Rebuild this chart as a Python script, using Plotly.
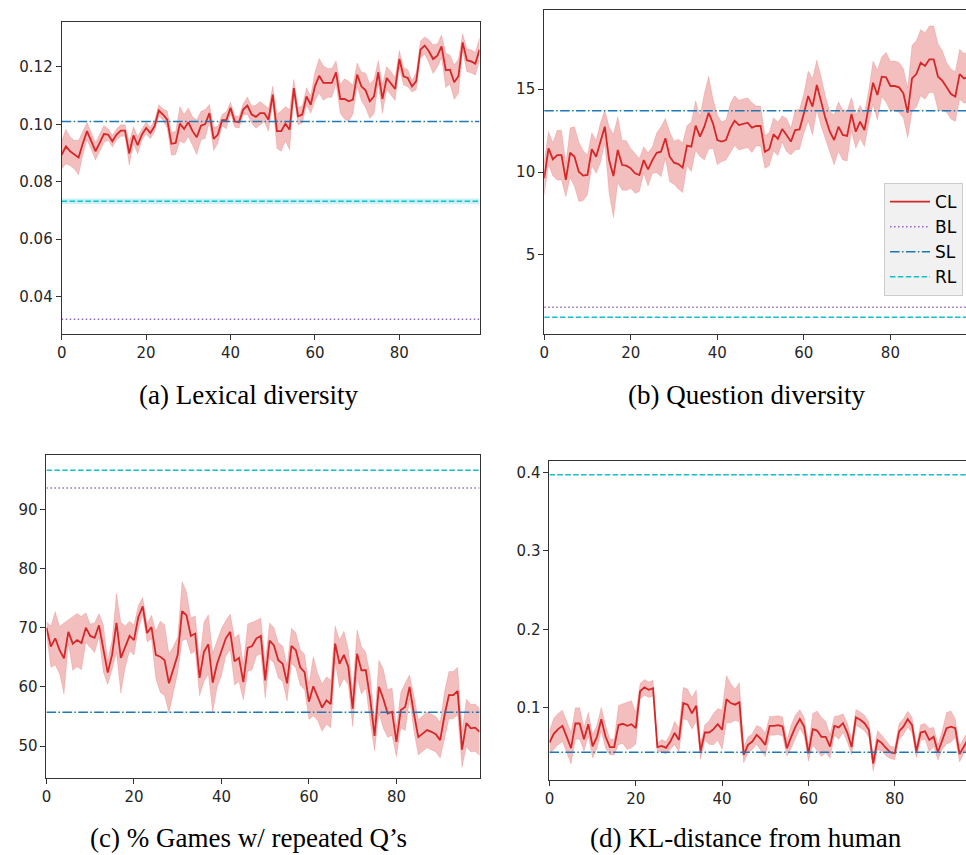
import plotly.graph_objects as go

# ---------------- data ----------------
steps = list(range(100))

# (a) Lexical diversity
lex_cl = [0.0894, 0.0923, 0.0906, 0.0894, 0.0884, 0.0933, 0.0976, 0.0941, 0.0906, 0.0935,
          0.0966, 0.0964, 0.0941, 0.0964, 0.0978, 0.0978, 0.0898, 0.0961, 0.0927, 0.0964,
          0.0987, 0.0970, 0.0993, 0.1048, 0.1034, 0.1016, 0.0932, 0.0935, 0.1002, 0.0984,
          0.1007, 0.0976, 0.0955, 0.0995, 0.1001, 0.1039, 0.0949, 0.0964, 0.1014, 0.1014,
          0.1057, 0.1010, 0.1007, 0.1051, 0.1065, 0.1034, 0.1026, 0.1039, 0.1039, 0.1016,
          0.1103, 0.0976, 0.0976, 0.1002, 0.0981, 0.1126, 0.1028, 0.1034, 0.1097, 0.1068,
          0.1132, 0.1169, 0.1144, 0.1144, 0.1144, 0.1181, 0.1088, 0.1088, 0.1080, 0.1086,
          0.1173, 0.1132, 0.1118, 0.1080, 0.1097, 0.1181, 0.1088, 0.1161, 0.1144, 0.1123,
          0.1227, 0.1167, 0.1161, 0.1132, 0.1150, 0.1260, 0.1274, 0.1254, 0.1227, 0.1239,
          0.1271, 0.1188, 0.1190, 0.1146, 0.1167, 0.1285, 0.1223, 0.1219, 0.1211, 0.1260]
lex_err = [0.005, 0.006, 0.005, 0.005, 0.006, 0.004, 0.003, 0.003, 0.003, 0.003,
           0.003, 0.002, 0.002, 0.002, 0.002, 0.002, 0.004, 0.003, 0.003, 0.002,
           0.002, 0.002, 0.002, 0.002, 0.002, 0.003, 0.004, 0.004, 0.006, 0.005,
           0.005, 0.005, 0.006, 0.005, 0.005, 0.003, 0.004, 0.003, 0.002, 0.003,
           0.002, 0.002, 0.002, 0.002, 0.003, 0.003, 0.004, 0.004, 0.003, 0.004,
           0.003, 0.006, 0.007, 0.006, 0.007, 0.003, 0.003, 0.003, 0.003, 0.003,
           0.005, 0.006, 0.006, 0.005, 0.005, 0.004, 0.005, 0.007, 0.007, 0.005,
           0.004, 0.005, 0.006, 0.006, 0.006, 0.004, 0.005, 0.004, 0.004, 0.004,
           0.003, 0.003, 0.003, 0.002, 0.003, 0.003, 0.003, 0.004, 0.005, 0.004,
           0.004, 0.006, 0.005, 0.006, 0.006, 0.003, 0.004, 0.004, 0.004, 0.004]
lex_bl, lex_sl, lex_rl, lex_rl_err = 0.0321, 0.1010, 0.0732, 0.0010

# (b) Question diversity
qd_cl = [9.62, 11.43, 10.76, 11.02, 11.02, 9.52, 11.16, 10.92, 10.02, 9.78,
         9.82, 11.37, 10.92, 11.77, 12.73, 10.72, 9.76, 11.33, 10.42, 10.38,
         10.22, 9.92, 9.82, 10.72, 10.16, 10.72, 11.16, 11.22, 12.03, 10.92,
         10.56, 10.48, 10.26, 11.59, 11.53, 12.79, 12.13, 12.73, 13.57, 12.93,
         11.93, 11.83, 11.93, 12.63, 13.09, 12.83, 12.89, 12.97, 12.67, 12.77,
         12.77, 11.22, 11.37, 12.27, 11.99, 12.59, 12.23, 11.83, 12.53, 12.57,
         13.53, 14.58, 13.94, 15.24, 14.24, 13.23, 12.43, 11.93, 12.73, 12.23,
         12.17, 13.49, 12.43, 13.03, 12.53, 13.94, 15.38, 14.64, 15.74, 15.70,
         15.18, 15.18, 15.10, 14.74, 13.57, 15.64, 15.90, 16.59, 16.39, 16.79,
         16.79, 15.74, 15.50, 15.10, 14.70, 14.54, 15.90, 15.64, 15.70, 15.50]
qd_err = [1.0, 1.0, 1.0, 1.5, 1.5, 1.0, 1.5, 1.8, 1.8, 1.5,
          1.2, 1.0, 1.0, 1.2, 1.0, 2.0, 2.5, 2.0, 1.5, 1.5,
          1.2, 1.2, 1.0, 0.8, 1.0, 0.8, 1.2, 1.5, 1.2, 1.5,
          1.3, 1.5, 1.5, 1.2, 1.5, 1.5, 1.2, 2.0, 2.2, 1.5,
          1.5, 1.2, 1.2, 1.5, 1.5, 1.5, 1.5, 1.5, 1.5, 1.2,
          1.2, 1.0, 1.0, 1.0, 1.0, 0.8, 1.0, 0.8, 1.2, 1.2,
          1.2, 1.5, 1.7, 1.5, 1.5, 1.3, 1.2, 1.5, 1.5, 1.5,
          1.5, 1.0, 1.0, 1.0, 1.0, 1.0, 1.3, 1.5, 1.2, 1.5,
          1.5, 1.5, 1.5, 1.5, 1.5, 2.0, 2.0, 2.0, 2.0, 2.0,
          2.0, 2.0, 1.8, 1.5, 1.5, 1.5, 1.5, 1.5, 1.5, 1.5]
qd_bl, qd_sl, qd_rl = 1.85, 13.69, 1.25

# (c) % Games w/ repeated Q's
rep_cl = [70.0, 66.8, 68.2, 66.2, 64.8, 69.3, 67.3, 67.9, 67.4, 70.0,
          68.6, 68.3, 70.4, 66.5, 62.4, 65.4, 70.8, 64.9, 66.8, 68.6,
          67.9, 71.8, 73.6, 69.1, 70.1, 65.4, 65.1, 64.5, 60.6, 62.8,
          65.4, 72.8, 72.1, 68.6, 69.0, 61.5, 65.9, 67.2, 60.7, 63.9,
          65.9, 68.2, 69.3, 64.3, 64.9, 60.8, 66.6, 66.9, 68.2, 68.6,
          61.1, 67.8, 67.0, 64.5, 63.9, 60.6, 66.9, 66.2, 63.3, 62.5,
          57.5, 60.1, 58.3, 56.5, 57.7, 57.1, 67.3, 63.9, 65.4, 63.4,
          56.3, 65.6, 62.8, 62.8, 58.0, 51.7, 60.0, 58.0, 55.5, 55.8,
          50.7, 56.1, 56.6, 60.0, 55.5, 51.5, 52.1, 52.7, 52.4, 52.0,
          51.0, 55.2, 58.6, 58.6, 59.3, 49.4, 53.9, 53.0, 53.1, 52.4]
rep_err = [1.0, 3.5, 4.5, 4.0, 6.0, 2.0, 4.5, 4.5, 4.5, 2.5,
           2.0, 2.5, 2.0, 4.0, 2.0, 2.5, 5.0, 6.0, 3.5, 2.5,
           2.5, 2.0, 1.5, 1.5, 2.0, 4.0, 6.0, 6.0, 5.0, 4.0,
           3.0, 5.0, 4.0, 3.0, 3.0, 3.0, 5.0, 5.0, 5.0, 4.0,
           4.0, 3.0, 3.0, 4.0, 4.0, 3.0, 4.0, 4.0, 3.0, 3.0,
           3.0, 3.0, 3.0, 3.0, 3.0, 3.0, 3.0, 3.0, 3.0, 3.0,
           3.0, 5.0, 4.0, 4.0, 4.0, 4.0, 3.0, 4.0, 4.0, 3.0,
           3.0, 4.0, 4.0, 3.0, 4.0, 2.5, 4.5, 5.0, 4.0, 4.0,
           2.5, 3.0, 4.0, 2.0, 3.0, 3.0, 3.0, 3.0, 3.0, 3.0,
           3.0, 4.0, 4.0, 4.0, 4.0, 3.0, 4.0, 4.0, 4.0, 4.0]
rep_bl, rep_sl, rep_rl = 93.6, 55.7, 96.6

# (d) KL-distance from human
kl_cl = [0.0557, 0.0668, 0.0728, 0.0770, 0.0630, 0.0485, 0.0800, 0.0800, 0.0600, 0.0790,
         0.0510, 0.0630, 0.0855, 0.0630, 0.0500, 0.0500, 0.0780, 0.0796, 0.0770, 0.0790,
         0.0740, 0.1210, 0.1260, 0.1230, 0.1250, 0.0500, 0.0515, 0.0490, 0.0570, 0.0680,
         0.0590, 0.1060, 0.1040, 0.0930, 0.1026, 0.0443, 0.0685, 0.0685, 0.0728, 0.0790,
         0.0720, 0.1110, 0.1060, 0.1040, 0.1070, 0.0400, 0.0528, 0.0570, 0.0655, 0.0600,
         0.0528, 0.0770, 0.0770, 0.0780, 0.0762, 0.0485, 0.0630, 0.0760, 0.0855, 0.0760,
         0.0420, 0.0728, 0.0710, 0.0630, 0.0630, 0.0506, 0.0770, 0.0750, 0.0804, 0.0685,
         0.0500, 0.0877, 0.0847, 0.0804, 0.0720, 0.0290, 0.0590, 0.0550, 0.0485, 0.0430,
         0.0420, 0.0700, 0.0760, 0.0855, 0.0780, 0.0443, 0.0685, 0.0700, 0.0590, 0.0630,
         0.0434, 0.0590, 0.0740, 0.0760, 0.0740, 0.0410, 0.0515, 0.0600, 0.0500, 0.0500]
kl_err = [0.015, 0.020, 0.020, 0.020, 0.020, 0.020, 0.020, 0.020, 0.015, 0.015,
          0.015, 0.015, 0.015, 0.015, 0.010, 0.010, 0.025, 0.025, 0.030, 0.030,
          0.020, 0.010, 0.010, 0.010, 0.010, 0.005, 0.008, 0.008, 0.010, 0.015,
          0.015, 0.020, 0.020, 0.020, 0.020, 0.010, 0.010, 0.015, 0.020, 0.020,
          0.025, 0.030, 0.025, 0.020, 0.025, 0.010, 0.010, 0.010, 0.012, 0.015,
          0.015, 0.012, 0.012, 0.012, 0.012, 0.010, 0.015, 0.015, 0.012, 0.012,
          0.010, 0.020, 0.025, 0.025, 0.020, 0.015, 0.012, 0.015, 0.012, 0.012,
          0.010, 0.010, 0.010, 0.010, 0.010, 0.010, 0.012, 0.010, 0.010, 0.008,
          0.008, 0.010, 0.010, 0.010, 0.010, 0.008, 0.010, 0.010, 0.015, 0.012,
          0.010, 0.012, 0.020, 0.020, 0.012, 0.010, 0.010, 0.010, 0.010, 0.010]
kl_bl, kl_sl, kl_rl = 0.5, 0.0434, 0.397

captions = ["(a) Lexical diversity", "(b) Question diversity",
            "(c) % Games w/ repeated Q\u2019s", "(d) KL-distance from human"]
series_names = ["CL", "BL", "SL", "RL"]

# ---------------- styling ----------------
RED = "#d62728"
RED_FILL = "rgba(214,39,40,0.30)"
PURPLE = "#9467bd"
BLUE = "#1f77b4"
CYAN = "#17becf"
DASH_BL = "1.5px,2.5px"
DASH_SL = "9.6px,2.4px,1.5px,2.4px"
DASH_RL = "5.5px,2.4px"

W, H = 966, 855


def fx(px):
    return px / W


def fy(py):
    return 1 - py / H


panels = [
    dict(cl=lex_cl, err=lex_err, bl=lex_bl, sl=lex_sl, rl=lex_rl,
         xdom=[fx(57), fx(477)], ydom=[fy(334), fy(21.7)],
         xrange=[0, 99], yrange=[0.027, 0.1357],
         ytick=[0.04, 0.06, 0.08, 0.10, 0.12], ytext=["0.04", "0.06", "0.08", "0.10", "0.12"],
         box=True),
    dict(cl=qd_cl, err=qd_err, bl=qd_bl, sl=qd_sl, rl=qd_rl,
         xdom=[fx(542), 1.0], ydom=[fy(334), fy(10)],
         xrange=[0, 97.47], yrange=[0.24, 19.76],
         ytick=[5, 10, 15], ytext=["5", "10", "15"], box=False),
    dict(cl=rep_cl, err=rep_err, bl=rep_bl, sl=rep_sl, rl=rep_rl,
         xdom=[fx(41.7), fx(477)], ydom=[fy(778), fy(455)],
         xrange=[0, 99], yrange=[44.6, 99.17],
         ytick=[50, 60, 70, 80, 90], ytext=["50", "60", "70", "80", "90"], box=True),
    dict(cl=kl_cl, err=kl_err, bl=kl_bl, sl=kl_sl, rl=kl_rl,
         xdom=[fx(547.3), 1.0], ydom=[fy(780), fy(460.7)],
         xrange=[0, 96.5], yrange=[0.008, 0.4148],
         ytick=[0.1, 0.2, 0.3, 0.4], ytext=["0.1", "0.2", "0.3", "0.4"], box=False),
]

fig = go.Figure()
tick_font = dict(family="DejaVu Sans", size=15, color="#262626")

for k, p in enumerate(panels):
    n = "" if k == 0 else str(k + 1)
    xa, ya = "x" + n, "y" + n
    show = (k == 1)
    upper = [m + e for m, e in zip(p["cl"], p["err"])]
    lower = [m - e for m, e in zip(p["cl"], p["err"])]
    x_end = [steps[0], steps[-1]]

    # light band around RL (lexical diversity)
    if k == 0:
        fig.add_trace(go.Scatter(
            x=x_end + x_end[::-1],
            y=[lex_rl + lex_rl_err] * 2 + [lex_rl - lex_rl_err] * 2,
            mode="lines", fill="toself", fillcolor="rgba(23,190,207,0.22)",
            line=dict(width=0), hoverinfo="skip", showlegend=False, xaxis=xa, yaxis=ya))

    fig.add_trace(go.Scatter(
        x=steps + steps[::-1], y=upper + lower[::-1], mode="lines",
        fill="toself", fillcolor=RED_FILL, line=dict(width=0.6, color="rgba(214,39,40,0.25)"),
        hoverinfo="skip", showlegend=False, xaxis=xa, yaxis=ya))
    fig.add_trace(go.Scatter(
        x=steps, y=p["cl"], mode="lines", name=series_names[0],
        line=dict(color=RED, width=1.8), showlegend=show, legendgroup="CL",
        xaxis=xa, yaxis=ya))
    fig.add_trace(go.Scatter(
        x=x_end, y=[p["bl"]] * 2, mode="lines", name=series_names[1],
        line=dict(color=PURPLE, width=1.5, dash=DASH_BL), showlegend=show, legendgroup="BL",
        xaxis=xa, yaxis=ya))
    fig.add_trace(go.Scatter(
        x=x_end, y=[p["sl"]] * 2, mode="lines", name=series_names[2],
        line=dict(color=BLUE, width=1.5, dash=DASH_SL), showlegend=show, legendgroup="SL",
        xaxis=xa, yaxis=ya))
    fig.add_trace(go.Scatter(
        x=x_end, y=[p["rl"]] * 2, mode="lines", name=series_names[3],
        line=dict(color=CYAN, width=1.5, dash=DASH_RL), showlegend=show, legendgroup="RL",
        xaxis=xa, yaxis=ya))

    common = dict(showgrid=False, zeroline=False, showline=True, linecolor="#333333",
                  linewidth=1, ticks="outside", ticklen=5, tickwidth=1, tickcolor="#333333",
                  tickfont=tick_font)
    fig.layout["xaxis" + n] = dict(
        domain=p["xdom"], range=p["xrange"], anchor=ya,
        tickvals=[0, 20, 40, 60, 80], ticktext=["0", "20", "40", "60", "80"],
        mirror=True, **common)
    fig.layout["yaxis" + n] = dict(
        domain=p["ydom"], range=p["yrange"], anchor=xa,
        tickvals=p["ytick"], ticktext=p["ytext"],
        mirror=p["box"], **common)

# captions: top row centred at y=395 px, bottom row sits on the page bottom
cap_spec = [(245, 395, "middle"), (745, 395, "middle"), (245, 855, "bottom"), (745, 855, "bottom")]
for text, (cx, cy, anch) in zip(captions, cap_spec):
    fig.add_annotation(text=text, x=fx(cx), y=fy(cy), xref="paper", yref="paper",
                       xanchor="center", yanchor=anch, showarrow=False,
                       font=dict(family="Liberation Serif", size=27, color="black"))

fig.update_layout(
    width=W, height=H, margin=dict(l=0, r=0, t=0, b=0),
    paper_bgcolor="white", plot_bgcolor="white",
    legend=dict(x=fx(963), y=fy(183), xanchor="right", yanchor="top",
                bgcolor="rgba(240,240,240,0.95)", bordercolor="#cccccc", borderwidth=1,
                font=dict(family="DejaVu Sans", size=17, color="black"),
                tracegroupgap=0, itemwidth=40),
    showlegend=True,
)

fig.write_html("out.html", config={"displayModeBar": False},
               post_script="document.body.style.margin='0';"
                           "document.body.style.overflow='hidden';")
